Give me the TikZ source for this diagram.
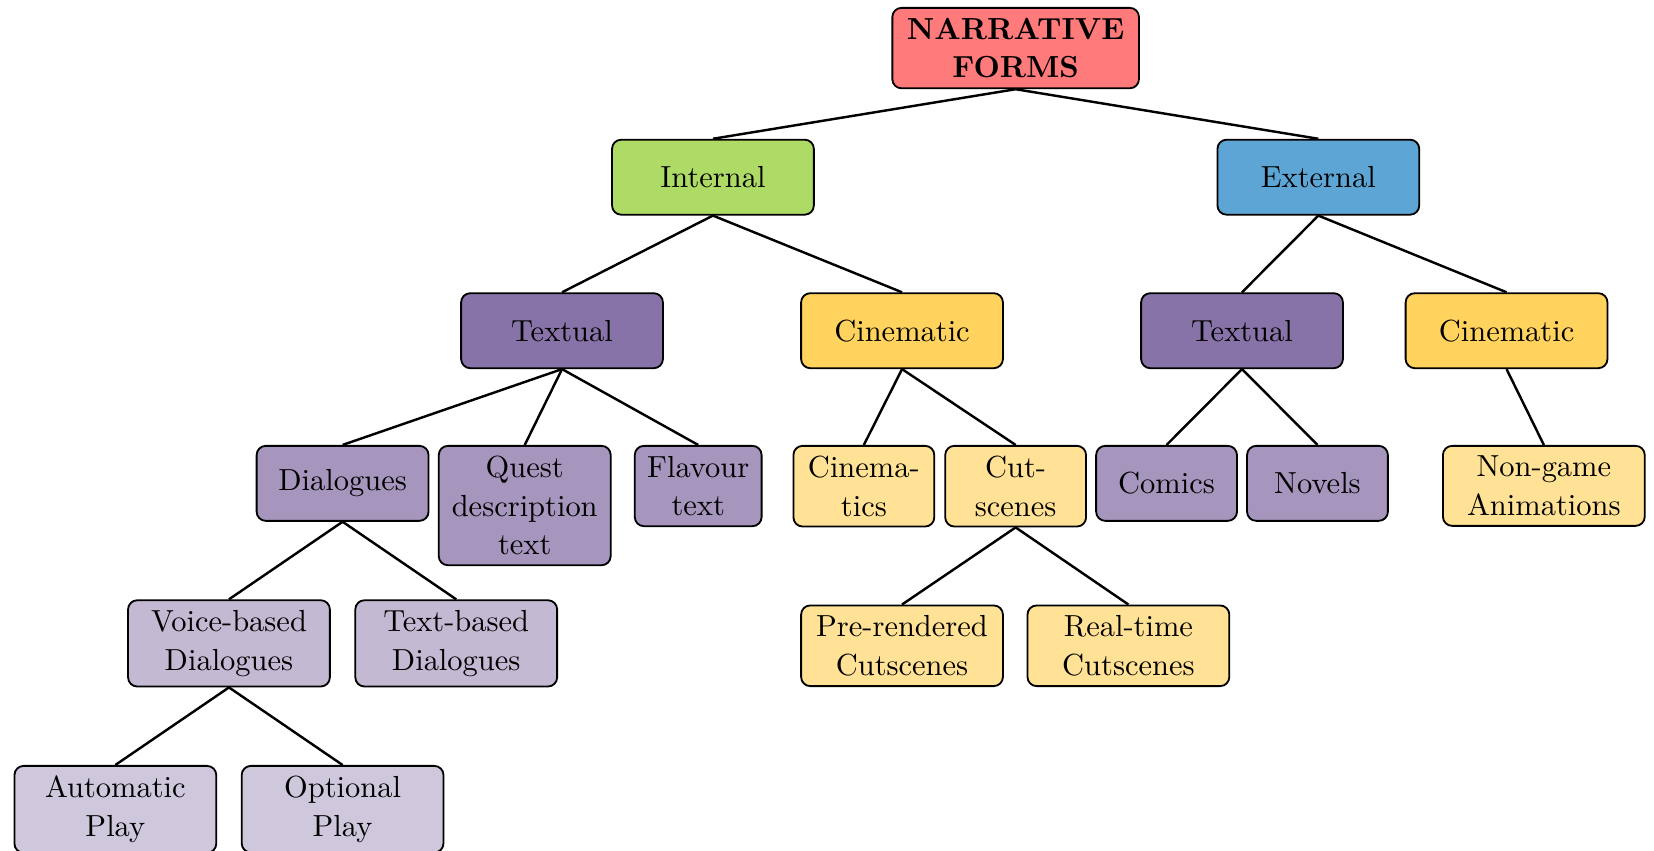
\documentclass[tikz,border=0pt]{standalone}
\usepackage{tikz}
\definecolor{rootred}{RGB}{255,123,123}
\definecolor{intgreen}{RGB}{174,218,102}
\definecolor{extblue}{RGB}{93,165,213}
\definecolor{txtpurple}{RGB}{136,115,168}
\definecolor{cingold}{RGB}{255,211,94}

\begin{document}
\begin{tikzpicture}[x=1cm,y=1cm]
\tikzstyle{form}=[draw,semithick,rounded corners=3pt,align=center,anchor=north,
  minimum height=24.6pt,inner sep=3.3pt,font=\fontsize{10pt}{12.7pt}\selectfont]
\tikzstyle{wide}=[minimum width=66.2pt]
\tikzstyle{mid}=[minimum width=56.4pt]
\tikzstyle{narrow}=[minimum width=46.2pt]
\tikzstyle{link}=[thick]

\useasboundingbox (0,0) rectangle (19.07,-9.81);

% root
\node[form,fill=rootred,font=\fontsize{10pt}{12.7pt}\selectfont\bfseries,minimum width=80.9pt] (nf) at (11.71,-0.08) {NARRATIVE\\FORMS};

% internal / external
\node[form,wide,fill=intgreen] (int) at (8.22,-1.60) {Internal};
\node[form,wide,fill=extblue] (ext) at (15.20,-1.60) {External};

\node[form,wide,fill=txtpurple] (itxt) at (6.48,-3.37) {Textual};
\node[form,wide,fill=cingold] (icin) at (10.40,-3.37) {Cinematic};
\node[form,wide,fill=txtpurple] (etxt) at (14.32,-3.37) {Textual};
\node[form,wide,fill=cingold] (ecin) at (17.37,-3.37) {Cinematic};

% third level
\node[form,mid,fill=txtpurple!75] (dial) at (3.95,-5.13) {Dialogues};
\node[form,mid,fill=txtpurple!75] (quest) at (6.05,-5.13) {Quest\\description\\text};
\node[form,minimum width=41.6pt,fill=txtpurple!75] (flav) at (8.05,-5.13) {Flavour\\text};
\node[form,narrow,fill=cingold!65] (cinem) at (9.96,-5.13) {Cinema-\\tics};
\node[form,narrow,fill=cingold!65] (cuts) at (11.71,-5.13) {Cut-\\scenes};
\node[form,narrow,fill=txtpurple!75] (comics) at (13.45,-5.13) {Comics};
\node[form,narrow,fill=txtpurple!75] (novels) at (15.19,-5.13) {Novels};
\node[form,wide,fill=cingold!65] (anim) at (17.80,-5.13) {Non-game\\Animations};

% fourth level
\node[form,wide,fill=txtpurple!50] (voice) at (2.64,-6.91) {Voice-based\\Dialogues};
\node[form,wide,fill=txtpurple!50] (textd) at (5.26,-6.91) {Text-based\\Dialogues};
\node[form,wide,fill=cingold!65] (prer) at (10.40,-6.97) {Pre-rendered\\Cutscenes};
\node[form,wide,fill=cingold!65] (realt) at (13.01,-6.97) {Real-time\\Cutscenes};

% fifth level
\node[form,wide,fill=txtpurple!40] (auto) at (1.33,-8.82) {Automatic\\Play};
\node[form,wide,fill=txtpurple!40] (opt) at (3.95,-8.82) {Optional\\Play};

\foreach \p/\c in {nf/int,nf/ext,int/itxt,int/icin,ext/etxt,ext/ecin,
  itxt/dial,itxt/quest,itxt/flav,icin/cinem,icin/cuts,etxt/comics,etxt/novels,
  ecin/anim,dial/voice,dial/textd,cuts/prer,cuts/realt,voice/auto,voice/opt}
  \draw[link] (\p.south) -- (\c.north);

\end{tikzpicture}
\end{document}
